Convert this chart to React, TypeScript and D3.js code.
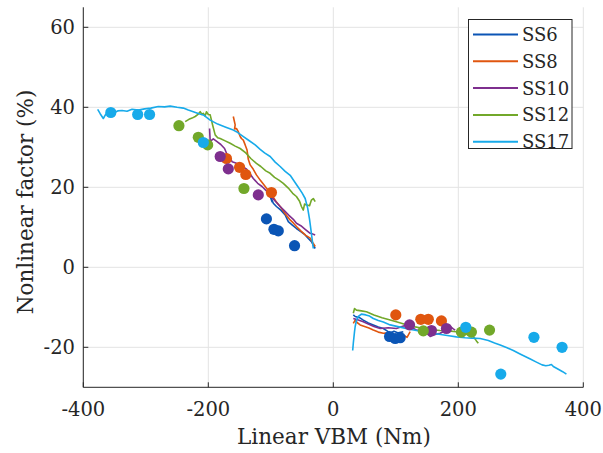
import React from "react";
import * as d3 from "d3";

const seriesNames = ["SS6", "SS8", "SS10", "SS12", "SS17"];
const seriesColors = ["#0b55b5", "#e0560f", "#7e2f8e", "#72a82a", "#17aaea"];

// negative-moment branch lines [VBM, factor]
const ss6Neg: [number, number][] = [[-101, 17.7], [-98, 16.4], [-99, 17.2], [-96, 16], [-91, 15.2], [-84, 14.3], [-77, 13.1], [-72, 11.4], [-66, 10.6], [-59, 9.7], [-52, 8.9], [-45, 8.1], [-40, 7.2], [-35, 6.4], [-29, 4.7]];
const ss8Neg: [number, number][] = [[-160, 37.7], [-157, 35.6], [-158, 34.6], [-155, 34.7], [-152, 33.9], [-149, 32.7], [-147, 32.2], [-144, 31.8], [-141, 30.6], [-138, 29.3], [-136, 27], [-133, 25.6], [-128, 24.5], [-123, 23.1], [-117, 21.8], [-112, 20.8], [-104, 19.2], [-97, 17.8], [-91, 16.3], [-85, 15.2], [-78, 13.6], [-70, 12], [-64, 11.1], [-59, 10.2], [-52, 9.1], [-44, 8], [-37, 7.3], [-33, 6.2], [-29, 5.2]];
const ss10Neg: [number, number][] = [[-198, 34.7], [-197, 31.5], [-192, 32.1], [-186, 31.4], [-180, 30.7], [-174, 29.7], [-170, 28.2], [-166, 27.6], [-162, 26.4], [-156, 26.1], [-150, 25.3], [-144, 25], [-139, 24.6], [-134, 23.5], [-128, 22.2], [-121, 21], [-114, 20.2], [-107, 19.1], [-99, 17.6], [-92, 16.4], [-85, 15.2], [-78, 14.1], [-71, 13], [-64, 12], [-59, 11], [-52, 10.4], [-45, 9.5], [-38, 8.6], [-33, 8.3], [-29, 8.1]];
const ss12Neg: [number, number][] = [[-237, 36.4], [-231, 37], [-226, 37.3], [-221, 37.7], [-216, 38.3], [-213, 38.9], [-210, 38.2], [-208, 38.5], [-205, 37.8], [-203, 38.9], [-200, 38.2], [-197, 38.1], [-193, 35.5], [-189, 33.1], [-185, 32.4], [-181, 32.2], [-173, 31.6], [-165, 31], [-157, 30.3], [-149, 29.7], [-140, 28.6], [-132, 27.2], [-123, 26], [-116, 25.2], [-108, 24.1], [-101, 23.5], [-94, 22.5], [-87, 21.8], [-80, 21], [-72, 19.8], [-65, 18.5], [-59, 17.7], [-54, 16.5], [-51, 15.2], [-48, 14.3], [-46, 15.8], [-42, 15.6], [-38, 15.4], [-35, 16.8], [-32, 17.2], [-29, 16.4]];
const ss17Neg: [number, number][] = [[-377, 39.5], [-373, 38.4], [-368, 37.2], [-364, 38.3], [-358, 39], [-352, 38.6], [-345, 39.1], [-338, 39.2], [-330, 39], [-322, 39.5], [-312, 39.3], [-302, 39.6], [-292, 39.8], [-280, 40.2], [-270, 40.1], [-261, 40.3], [-250, 40], [-240, 39.8], [-232, 39.3], [-224, 38.9], [-215, 38.4], [-208, 38.1], [-197, 36.8], [-185, 35.8], [-172, 35], [-160, 34.3], [-155, 33.9], [-145, 32.8], [-135, 31.7], [-125, 30.6], [-117, 29.5], [-110, 28.6], [-101, 27.7], [-93, 26.3], [-85, 25.2], [-77, 24], [-69, 23], [-62, 21.4], [-56, 20], [-50, 18.6], [-45, 17.2], [-41, 14.8], [-38, 12], [-36, 9.6], [-34, 7.2], [-32, 4.7]];

// positive-moment branch lines
const ss6Pos: [number, number][] = [[32, -11.9], [35, -12.3], [42, -12.6], [48, -13.2], [56, -13.9], [64, -14.4], [72, -14.9], [80, -15.3], [86, -15.9], [91, -16.5], [97, -16], [104, -16.4], [112, -16.1]];
const ss8Pos: [number, number][] = [[32, -14], [35, -13.2], [38, -13.8], [43, -14.4], [50, -14.8], [57, -15.2], [64, -15.7], [72, -16.2], [80, -16.5], [88, -16.4], [96, -16.8], [104, -17.2], [112, -16.9], [118, -17.5], [123, -16.1]];
const ss10Pos: [number, number][] = [[32, -12.8], [40, -13.2], [48, -13.6], [56, -14.2], [65, -14.8], [75, -15.3], [88, -15.1], [101, -15.3], [110, -14.8], [117, -14.4], [124, -14.9], [132, -15.6], [144, -16.1], [150, -16.6], [155, -17.3], [163, -16.8], [171, -16.5], [180, -15.8], [187, -14.8], [192, -15.4], [195, -15.7]];
const ss12Pos: [number, number][] = [[32, -11.5], [34, -10.3], [37, -10.7], [45, -10.9], [53, -11.1], [65, -11.9], [78, -12.6], [91, -13.2], [105, -13.8], [118, -14.4], [131, -14.9], [144, -15.3], [158, -15.6], [171, -15.8], [184, -15.9], [197, -16.1], [210, -16.6], [224, -17.3], [229, -18.4], [232, -19]];
const ss17Pos: [number, number][] = [[31, -20.8], [32, -19], [34, -16], [35, -14.8], [37, -13.3], [40, -12.3], [45, -11.7], [52, -11.9], [58, -12.2], [64, -12.8], [72, -13.3], [80, -13.7], [91, -14.4], [105, -14.9], [120, -15.4], [133, -15.8], [144, -16.1], [158, -16.5], [172, -16.8], [185, -17.1], [197, -17.4], [211, -17.6], [222, -17.7], [235, -17.8], [248, -18.3], [258, -18.9], [267, -19.4], [278, -20.1], [288, -20.8], [298, -21.6], [307, -22.3], [316, -23], [325, -23.7], [334, -24.4], [340, -24.6], [345, -24.5], [349, -24.3], [352, -24.8], [360, -25.5], [367, -26.1], [373, -26.7]];

// markers
const ss6Pts: [number, number][] = [[-107, 12.1], [-95, 9.5], [-88, 9.1], [-62, 5.4], [90, -17.3], [99, -17.8], [107, -17.6]];
const ss8Pts: [number, number][] = [[-171, 27.2], [-150, 25], [-140, 23.2], [-99, 18.7], [100, -11.9], [140, -13], [152, -13], [173, -13.4]];
const ss10Pts: [number, number][] = [[-181, 27.7], [-168, 24.6], [-120, 18.1], [122, -14.4], [157, -15.8], [181, -15.3]];
const ss12Pts: [number, number][] = [[-247, 35.4], [-216, 32.5], [-201, 30.6], [-143, 19.7], [144, -15.9], [205, -16.2], [221, -16.2], [250, -15.7]];
const ss17Pts: [number, number][] = [[-356, 38.7], [-313, 38.2], [-294, 38.2], [-208, 31.2], [212, -15], [268, -26.7], [321, -17.5], [366, -20]];

const xTicks = [-400, -200, 0, 200, 400];
const yTicks = [-20, 0, 20, 40, 60];

const negLines = [ss6Neg, ss8Neg, ss10Neg, ss12Neg, ss17Neg];
const posLines = [ss6Pos, ss8Pos, ss10Pos, ss12Pos, ss17Pos];
const markerSets = [ss6Pts, ss8Pts, ss10Pts, ss12Pts, ss17Pts];

export default function App() {
  const W = 603, H = 453;
  const x = d3.scaleLinear().domain([-400, 400]).range([83.3, 583.3]);
  const y = d3.scaleLinear().domain([-30, 65]).range([387.3, 7.3]);
  const line = d3.line<[number, number]>().x(d => x(d[0])).y(d => y(d[1]));
  const font = "DejaVu Serif, Liberation Serif, serif";
  const axisColor = "#262626";
  const [x0, x1] = x.range();
  const [y0, y1] = y.range();
  return (
    <svg width={W} height={H} style={{ position: "absolute", left: 0, top: 0, background: "#fff", fontFamily: font }}>
      <rect x={0} y={0} width={W} height={H} fill="#fff" />
      {/* grid */}
      {xTicks.map(t => (
        <line key={"gx" + t} x1={x(t)} x2={x(t)} y1={y1} y2={y0} stroke="#e3e3e3" strokeWidth={1} />
      ))}
      {yTicks.map(t => (
        <line key={"gy" + t} x1={x0} x2={x1} y1={y(t)} y2={y(t)} stroke="#e3e3e3" strokeWidth={1} />
      ))}
      {/* data */}
      {seriesNames.map((n, i) => (
        <g key={n}>
          <path d={line(negLines[i]) || ""} fill="none" stroke={seriesColors[i]} strokeWidth={1.6} strokeLinejoin="round" />
          <path d={line(posLines[i]) || ""} fill="none" stroke={seriesColors[i]} strokeWidth={1.6} strokeLinejoin="round" />
        </g>
      ))}
      {seriesNames.map((n, i) => (
        <g key={n + "m"}>
          {markerSets[i].map((p, j) => (
            <circle key={j} cx={x(p[0])} cy={y(p[1])} r={5.6} fill={seriesColors[i]} />
          ))}
        </g>
      ))}
      {/* axes */}
      <line x1={x0} x2={x0} y1={y1} y2={y0} stroke={axisColor} strokeWidth={1} />
      <line x1={x0} x2={x1} y1={y0} y2={y0} stroke={axisColor} strokeWidth={1} />
      {xTicks.map(t => (
        <g key={"tx" + t}>
          <line x1={x(t)} x2={x(t)} y1={y0} y2={y0 - 5} stroke={axisColor} />
          <text x={x(t)} y={416} textAnchor="middle" fontSize={19.5} fill={axisColor}>{t}</text>
        </g>
      ))}
      {yTicks.map(t => (
        <g key={"ty" + t}>
          <line x1={x0} x2={x0 + 5} y1={y(t)} y2={y(t)} stroke={axisColor} />
          <text x={75} y={y(t) + 7} textAnchor="end" fontSize={19.5} fill={axisColor}>{t}</text>
        </g>
      ))}
      <text x={334} y={444} textAnchor="middle" fontSize={21.5} fill={axisColor}>Linear VBM (Nm)</text>
      <text transform={`translate(33,202) rotate(-90)`} textAnchor="middle" fontSize={21.5} fill={axisColor}>Nonlinear factor (%)</text>
      {/* legend */}
      <rect x={468.5} y={19.5} width={103.5} height={129} fill="#fff" stroke={axisColor} strokeWidth={1} />
      {seriesNames.map((n, i) => {
        const ly = 34.5 + i * 26.8;
        return (
          <g key={"lg" + n}>
            <line x1={473} x2={518} y1={ly} y2={ly} stroke={seriesColors[i]} strokeWidth={2} />
            <text x={522} y={ly + 6.5} fontSize={18} fill={axisColor}>{n}</text>
          </g>
        );
      })}
    </svg>
  );
}
